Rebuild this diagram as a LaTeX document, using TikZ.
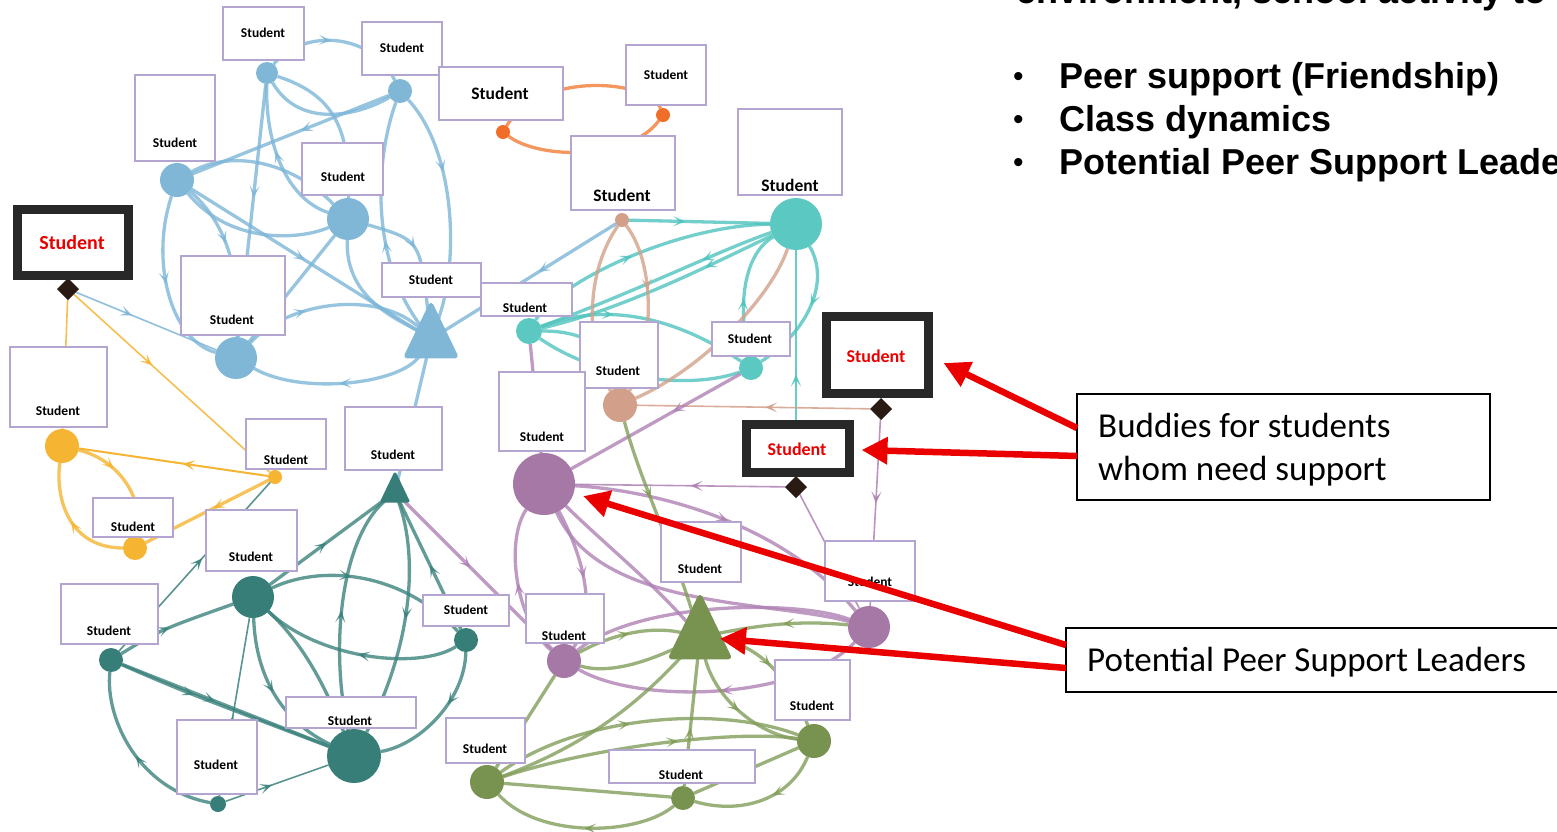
\documentclass[tikz,border=0pt]{standalone}
\usepackage{fontspec}
\usetikzlibrary{arrows.meta,decorations.markings,shapes.geometric}
\newfontfamily\carl{Carlito}
\newfontfamily\arl{Liberation Sans}
\pgfdeclarelayer{bg}
\pgfdeclarelayer{edges}
\pgfsetlayers{bg,edges,main}
\definecolor{bxc}{RGB}{180,165,208}
\definecolor{bl}{RGB}{128,183,214}
\definecolor{ble}{RGB}{125,182,216}
\definecolor{orn}{RGB}{240,110,40}
\definecolor{orne}{RGB}{240,125,55}
\definecolor{tl}{RGB}{92,200,194}
\definecolor{tle}{RGB}{80,196,190}
\definecolor{sal}{RGB}{210,160,138}
\definecolor{yel}{RGB}{245,180,50}
\definecolor{dtl}{RGB}{55,125,120}
\definecolor{dtle}{RGB}{60,130,125}
\definecolor{pur}{RGB}{166,120,166}
\definecolor{pure}{RGB}{175,130,180}
\definecolor{grn}{RGB}{120,146,80}
\definecolor{grne}{RGB}{130,158,90}
\definecolor{dia}{RGB}{42,26,20}
\definecolor{rbc}{RGB}{40,40,40}
\definecolor{redc}{RGB}{235,0,0}
\begin{document}
\begin{tikzpicture}[x=1pt,y=-1pt,
  ed/.style={line width=3.3pt, draw opacity=0.8},
  thn/.style={line width=1.6pt, draw opacity=0.85},
  ar/.style={postaction={decorate}, decoration={markings, mark=at position #1 with {\arrow[fill opacity=0.9]{Stealth[length=12pt,width=10pt,inset=6pt]}}}},
  ar/.default=0.5,
  cn/.style={circle, inner sep=0pt, outer sep=0pt, draw=none},
  tri/.style={regular polygon, regular polygon sides=3, inner sep=0pt, outer sep=0pt, line join=round, transform shape},
  dm/.style={diamond, fill=dia, draw=none, inner sep=0pt, outer sep=0pt, minimum width=22pt, minimum height=22pt},
  sbox/.style={rectangle, draw=bxc, line width=1.5pt, fill=white, inner sep=0pt, outer sep=0pt},
  rbox/.style={rectangle, draw=rbc, line width=9pt, fill=white, inner sep=0pt, outer sep=0pt},
  stx/.style={font=\carl\bfseries\fontsize{13.5}{16}\selectfont, inner sep=0pt},
  stxb/.style={font=\carl\bfseries\fontsize{17.5}{20}\selectfont, inner sep=0pt},
  rtx/.style={font=\carl\bfseries\fontsize{18}{21}\selectfont, text=redc, inner sep=0pt},
  cbox/.style={rectangle, draw=black, line width=1.5pt, fill=white, inner sep=0pt, outer sep=0pt},
  ctx/.style={font=\carl\fontsize{35}{42}\selectfont, inner sep=0pt, anchor=base west},
  btx/.style={font=\arl\bfseries\fontsize{36}{42}\selectfont, inner sep=0pt, anchor=base west},
  redarr/.style={draw=redc, line width=6.5pt, -{Triangle[length=26pt,width=26pt]}}
]
\useasboundingbox (0,0) rectangle (1557,831);
\begin{pgfonlayer}{bg}
\fill[white] (0,0) rectangle (1557,831);
\end{pgfonlayer}
\clip (0,0) rectangle (1557,831);

% ---------- circles and triangles ----------
\node[cn, fill=bl, minimum size=22pt] (b1) at (267,73) {};
\node[cn, fill=bl, minimum size=24pt] (b2) at (400,91) {};
\node[cn, fill=bl, minimum size=34pt] (b3) at (177,180) {};
\node[cn, fill=bl, minimum size=42pt] (b4) at (348,219) {};
\node[cn, fill=bl, minimum size=42pt] (b5) at (236,358) {};
\node[tri, fill=bl, draw=bl, line width=5pt, minimum size=56pt, yscale=1.2] (tb) at (431,339) {};
\node[cn, fill=orn, minimum size=14pt] (o1) at (503,132) {};
\node[cn, fill=orn, minimum size=14pt] (o2) at (663,115) {};
\node[cn, fill=tl, minimum size=52pt] (t1) at (796,224) {};
\node[cn, fill=tl, minimum size=26pt] (t2) at (529,331) {};
\node[cn, fill=tl, minimum size=24pt] (t3) at (751,368) {};
\node[cn, fill=sal, minimum size=14pt] (s1) at (622,220) {};
\node[cn, fill=sal, minimum size=34pt] (s2) at (620,405) {};
\node[cn, fill=yel, minimum size=34pt] (y1) at (62,446) {};
\node[cn, fill=yel, minimum size=14pt] (y2) at (275,477) {};
\node[cn, fill=yel, minimum size=24pt] (y3) at (135,548) {};
\node[tri, fill=dtl, draw=dtl, line width=3pt, minimum size=30pt, yscale=1.2] (tdt) at (395,492) {};
\node[cn, fill=dtl, minimum size=42pt] (dt1) at (253,597) {};
\node[cn, fill=dtl, minimum size=24pt] (dt2) at (111,660) {};
\node[cn, fill=dtl, minimum size=24pt] (dt3) at (466,640) {};
\node[cn, fill=dtl, minimum size=54pt] (dt4) at (354,756) {};
\node[cn, fill=dtl, minimum size=16pt] (dt5) at (218,804) {};
\node[cn, fill=pur, minimum size=62pt] (p1) at (544,484) {};
\node[cn, fill=pur, minimum size=34pt] (p2) at (564,661) {};
\node[cn, fill=pur, minimum size=42pt] (p3) at (869,627) {};
\node[tri, fill=grn, draw=grn, line width=5pt, minimum size=66pt, yscale=1.2] (tg) at (700,637) {};
\node[cn, fill=grn, minimum size=34pt] (g1) at (487,782) {};
\node[cn, fill=grn, minimum size=34pt] (g2) at (814,741) {};
\node[cn, fill=grn, minimum size=24pt] (g3) at (683,798) {};
\node[dm] (dm1) at (68,289) {};
\node[dm] (dm2) at (881,409) {};
\node[dm] (dm3) at (796,487) {};

% ---------- label boxes ----------
\node[sbox, minimum width=81pt, minimum height=53pt] (n1) at (263.5,33.5) {};
\node[sbox, minimum width=80pt, minimum height=53pt] (n2) at (402,48.5) {};
\node[sbox, minimum width=80pt, minimum height=86pt] (n3) at (175,118) {};
\node[sbox, minimum width=81pt, minimum height=52pt] (n4) at (342.5,169) {};
\node[sbox, minimum width=104pt, minimum height=79pt] (n5) at (233,295.5) {};
\node[sbox, minimum width=99pt, minimum height=34pt] (n6) at (431.5,280) {};
\node[sbox, minimum width=91pt, minimum height=33pt] (n7) at (526.5,299.5) {};
\node[sbox, minimum width=124pt, minimum height=53pt] (n8) at (501,93.5) {};
\node[sbox, minimum width=80pt, minimum height=60pt] (n9) at (666,75) {};
\node[sbox, minimum width=104pt, minimum height=74pt] (n10) at (623,173) {};
\node[sbox, minimum width=104pt, minimum height=86pt] (n11) at (790,152) {};
\node[sbox, minimum width=78pt, minimum height=66pt] (n12) at (619,355) {};
\node[sbox, minimum width=78pt, minimum height=34pt] (n13) at (751,339) {};
\node[sbox, minimum width=86pt, minimum height=79pt] (n14) at (542,411.5) {};
\node[sbox, minimum width=97pt, minimum height=80pt] (n15) at (58.5,387) {};
\node[sbox, minimum width=80pt, minimum height=50pt] (n16) at (286,444) {};
\node[sbox, minimum width=80pt, minimum height=39pt] (n17) at (133,517.5) {};
\node[sbox, minimum width=97pt, minimum height=63pt] (n18) at (393.5,438.5) {};
\node[sbox, minimum width=91pt, minimum height=61pt] (n19) at (251.5,540.5) {};
\node[sbox, minimum width=97pt, minimum height=60pt] (n20) at (109.5,614) {};
\node[sbox, minimum width=86pt, minimum height=31pt] (n21) at (466,610.5) {};
\node[sbox, minimum width=130pt, minimum height=31pt] (n22) at (351,712.5) {};
\node[sbox, minimum width=80pt, minimum height=74pt] (n23) at (217,757) {};
\node[sbox, minimum width=80pt, minimum height=60pt] (n24) at (701,552) {};
\node[sbox, minimum width=90pt, minimum height=60pt] (n25) at (870,571) {};
\node[sbox, minimum width=78pt, minimum height=49pt] (n26) at (565,618.5) {};
\node[sbox, minimum width=75pt, minimum height=60pt] (n27) at (812.5,690) {};
\node[sbox, minimum width=79pt, minimum height=45pt] (n28) at (485.5,740.5) {};
\node[sbox, minimum width=146pt, minimum height=33pt] (n29) at (682,766.5) {};

\node[stx] (n1t) at (263,33) {Student};
\node[stx] (n2t) at (402,48) {Student};
\node[stx] (n3t) at (175,143) {Student};
\node[stx] (n4t) at (343,177) {Student};
\node[stx] (n5t) at (232,320) {Student};
\node[stx] (n6t) at (431,280) {Student};
\node[stx] (n7t) at (525,308) {Student};
\node[stxb] (n8t) at (500,93) {Student};
\node[stx] (n9t) at (666,75) {Student};
\node[stxb] (n10t) at (622,195) {Student};
\node[stxb] (n11t) at (790,185) {Student};
\node[stx] (n12t) at (618,371) {Student};
\node[stx] (n13t) at (750,339) {Student};
\node[stx] (n14t) at (542,437) {Student};
\node[stx] (n15t) at (58,411) {Student};
\node[stx] (n16t) at (286,460) {Student};
\node[stx] (n17t) at (133,527) {Student};
\node[stx] (n18t) at (393,455) {Student};
\node[stx] (n19t) at (251,557) {Student};
\node[stx] (n20t) at (109,631) {Student};
\node[stx] (n21t) at (466,610) {Student};
\node[stx] (n22t) at (350,721) {Student};
\node[stx] (n23t) at (216,765) {Student};
\node[stx] (n24t) at (700,569) {Student};
\node[stx] (n25t) at (870,582) {Student};
\node[stx] (n26t) at (564,636) {Student};
\node[stx] (n27t) at (812,706) {Student};
\node[stx] (n28t) at (485,749) {Student};
\node[stx] (n29t) at (681,775) {Student};

% ---------- highlighted students ----------
\node[rbox, minimum width=111pt, minimum height=66pt] (r1) at (73,242.5) {};
\node[rtx, font=\carl\bfseries\fontsize{20}{23}\selectfont] (r1t) at (72,243) {Student};
\node[rbox, minimum width=102pt, minimum height=77pt] (r2) at (877.5,355) {};
\node[rtx] (r2t) at (876,356) {Student};
\node[rbox, minimum width=103pt, minimum height=48pt] (r3) at (798,448.5) {};
\node[rtx] (r3t) at (797,449) {Student};

% ---------- edges ----------
\begin{pgfonlayer}{edges}
% blue
\draw[ed,ble,ar=0.45] (b1) .. controls (300,30) and (370,30) .. (b2);
\draw[ed,ble,ar=0.45] (b1) -- (b5);
\draw[ed,ble] (b1) .. controls (335,95) and (350,130) .. (b4);
\draw[ed,ble,ar=0.55] (b4) .. controls (290,200) and (265,150) .. (b1);
\draw[ed,ble,ar=0.45] (b2) -- (b3);
\draw[ed,ble] (b1) .. controls (300,130) and (360,115) .. (b2);
\draw[ed,ble,ar=0.4] (tb) .. controls (370,260) and (375,160) .. (b2);
\draw[ed,ble,ar=0.35] (b2) .. controls (455,150) and (460,260) .. (tb);
\draw[ed,ble,ar=0.4] (b3) .. controls (235,230) and (240,290) .. (b5);
\draw[ed,ble,ar=0.5] (b3) -- (tb);
\draw[ed,ble] (b3) .. controls (230,245) and (300,240) .. (b4);
\draw[ed,ble] (b3) .. controls (230,150) and (290,160) .. (b4);
\draw[ed,ble,ar=0.5] (b3) .. controls (150,260) and (170,340) .. (b5);
\draw[ed,ble,ar=0.45] (b4) .. controls (420,240) .. (tb);
\draw[ed,ble] (b4) .. controls (345,300) and (400,320) .. (tb);
\draw[ed,ble] (b4) -- (b5);
\draw[ed,ble,ar=0.35] (b5) .. controls (290,300) and (380,290) .. (tb);
\draw[ed,ble,ar=0.5] (tb) .. controls (400,385) and (300,395) .. (b5);
\draw[thn,ble,ar=0.4] (dm1) -- (b5);
\draw[ed,ble] (tb) -- (tdt);
\draw[ed,ble,ar=0.45] (s1) -- (tb);
% orange
\draw[ed,orne,ar=0.38] (o1) .. controls (540,70) and (650,80) .. (o2);
\draw[ed,orne] (o2) .. controls (630,160) and (540,160) .. (o1);
% teal
\draw[ed,tle,ar=0.4] (s1) -- (t1);
\draw[ed,tle,ar=0.45] (t2) .. controls (560,280) and (680,225) .. (t1);
\draw[ed,tle,ar=0.3] (t1) .. controls (700,270) and (620,310) .. (t2);
\draw[ed,tle,ar=0.3] (t1) .. controls (720,250) and (640,290) .. (t2);
\draw[ed,tle,ar=0.35] (t2) .. controls (610,300) and (680,320) .. (t3);
\draw[ed,tle] (t2) .. controls (600,380) and (690,390) .. (t3);
\draw[ed,tle] (t2) .. controls (590,331) and (610,350) .. (s2);
\draw[ed,tle,ar=0.45] (t3) .. controls (735,290) and (750,250) .. (t1);
\draw[ed,tle,ar=0.45] (t1) .. controls (830,280) and (810,330) .. (t3);
\draw[thn,tle,ar=0.45] (dm3) -- (t1);
% salmon
\draw[ed,sal] (s1) .. controls (580,280) and (590,360) .. (s2);
\draw[ed,sal,ar=0.4] (s1) .. controls (660,270) and (650,360) .. (s2);
\draw[ed,sal] (t1) .. controls (770,300) and (700,370) .. (s2);
\draw[thn,sal,ar=0.45] (dm2) -- (s2);
% purple
\draw[thn,pure,ar=0.45] (dm2) -- (p3);
\draw[thn,pure,ar=0.45] (dm3) -- (p1);
\draw[thn,pure] (dm3) -- (p3);
\draw[ed,pure] (t2) -- (p1);
\draw[ed,pure,ar=0.4] (t3) -- (p1);
\draw[ed,pure,ar=0.5] (p1) .. controls (650,490) and (780,520) .. (p3);
\draw[ed,pure] (p1) .. controls (600,540) and (650,580) .. (tg);
\draw[ed,pure] (p1) .. controls (600,610) and (770,600) .. (p3);
\draw[ed,pure,ar=0.5] (p2) .. controls (515,620) and (505,540) .. (p1);
\draw[ed,pure,ar=0.5] (p1) .. controls (580,550) and (600,610) .. (p2);
\draw[ed,pure,ar=0.45] (tdt) -- (p2);
\draw[ed,pure,ar=0.5] (p3) .. controls (800,700) and (640,705) .. (p2);
\draw[ed,pure] (p2) .. controls (640,600) and (800,600) .. (p3);
% green
\draw[ed,grne,ar=0.4] (s2) .. controls (640,480) and (670,540) .. (tg);
\draw[ed,grne,ar=0.5] (p3) .. controls (800,620) and (760,625) .. (tg);
\draw[ed,grne,ar=0.45] (tg) .. controls (760,645) and (790,680) .. (g2);
\draw[ed,grne,ar=0.5] (p2) .. controls (610,635) and (650,625) .. (tg);
\draw[ed,grne] (p2) .. controls (610,675) and (650,660) .. (tg);
\draw[ed,grne,ar=0.5] (g1) -- (p2);
\draw[ed,grne] (tg) .. controls (650,690) and (600,740) .. (g1);
\draw[ed,grne,ar=0.45] (g3) -- (tg);
\draw[ed,grne,ar=0.5] (tg) .. controls (715,700) and (760,735) .. (g2);
\draw[ed,grne,ar=0.45] (g1) .. controls (580,715) and (720,705) .. (g2);
\draw[ed,grne,ar=0.6] (g1) .. controls (600,745) and (740,730) .. (g2);
\draw[ed,grne] (g1) -- (g3);
\draw[ed,grne,ar=0.5] (g3) .. controls (640,835) and (540,840) .. (g1);
\draw[ed,grne,ar=0.4] (g2) .. controls (790,800) and (740,815) .. (g3);
\draw[ed,grne] (g2) -- (g3);
% dark teal
\draw[ed,dtle,ar=0.5] (dt1) -- (tdt);
\draw[ed,dtle,ar=0.5] (dt4) .. controls (330,650) and (340,540) .. (tdt);
\draw[ed,dtle,ar=0.5] (tdt) .. controls (420,560) and (410,650) .. (dt4);
\draw[ed,dtle,ar=0.5] (dt3) -- (tdt);
\draw[ed,dtle,ar=0.4] (dt1) .. controls (320,565) and (400,570) .. (dt3);
\draw[ed,dtle,ar=0.5] (dt3) .. controls (420,670) and (320,660) .. (dt1);
\draw[ed,dtle] (dt1) .. controls (310,650) and (330,700) .. (dt4);
\draw[ed,dtle,ar=0.5] (dt1) .. controls (255,660) and (270,715) .. (dt4);
\draw[thn,dtle,ar=0.45] (dt5) -- (dt1);
\draw[ed,dtle,ar=0.45] (dt2) .. controls (160,630) .. (dt1);
\draw[thn,dtle,ar=0.55] (dt2) -- (y2);
\draw[ed,dtle,ar=0.45] (dt2) -- (dt4);
\draw[ed,dtle,ar=0.35] (dt2) .. controls (180,690) .. (dt4);
\draw[ed,dtle,ar=0.5] (dt5) .. controls (140,790) and (105,720) .. (dt2);
\draw[thn,dtle,ar=0.45] (dt5) -- (dt4);
\draw[ed,dtle,ar=0.4] (dt3) .. controls (465,700) and (420,745) .. (dt4);
% yellow
\draw[thn,yel] (dm1) -- (y1);
\draw[thn,yel,ar=0.4] (dm1) -- (y2);
\draw[line width=2pt,yel,ar=0.45] (y2) -- (y1);
\draw[ed,yel,ar=0.45] (y2) -- (y3);
\draw[ed,yel,ar=0.35] (y1) .. controls (120,460) and (145,500) .. (y3);
\draw[ed,yel,ar=0.5] (y3) .. controls (70,548) and (55,500) .. (y1);
\end{pgfonlayer}

% ---------- right-hand text ----------
\node[btx] (hd) at (1016,3) {environment, school activity to};
\node[btx, font=\arl\fontsize{30}{36}\selectfont] (bu1) at (1013,86) {•};
\node[btx, font=\arl\fontsize{30}{36}\selectfont] (bu2) at (1013,129) {•};
\node[btx, font=\arl\fontsize{30}{36}\selectfont] (bu3) at (1013,172) {•};
\node[btx] (l1) at (1059,88) {Peer support (Friendship)};
\node[btx] (l2) at (1059,131) {Class dynamics};
\node[btx] (l3) at (1059,174) {Potential Peer Support Leaders};

% ---------- callouts ----------
\node[cbox, minimum width=413pt, minimum height=106pt] (c1) at (1283.5,447) {};
\node[ctx] (c1a) at (1098,437) {Buddies for students};
\node[ctx] (c1b) at (1098,480) {whom need support};
\node[cbox, minimum width=514pt, minimum height=64pt] (c2) at (1323,660) {};
\node[ctx] (c2a) at (1087,671) {Potential Peer Support Leaders};

\draw[redarr] ([yshift=19pt]c1.west) -- ([xshift=15pt,yshift=-8pt]r2.east);
\draw[redarr] ([yshift=-9pt]c1.west) -- ([xshift=12pt,yshift=-1.5pt]r3.east);
\draw[redarr, shorten >=10pt] ([yshift=15pt]c2.west) -- (p1);
\draw[redarr] ([yshift=-8pt]c2.west) -- (tg);
\end{tikzpicture}
\end{document}
